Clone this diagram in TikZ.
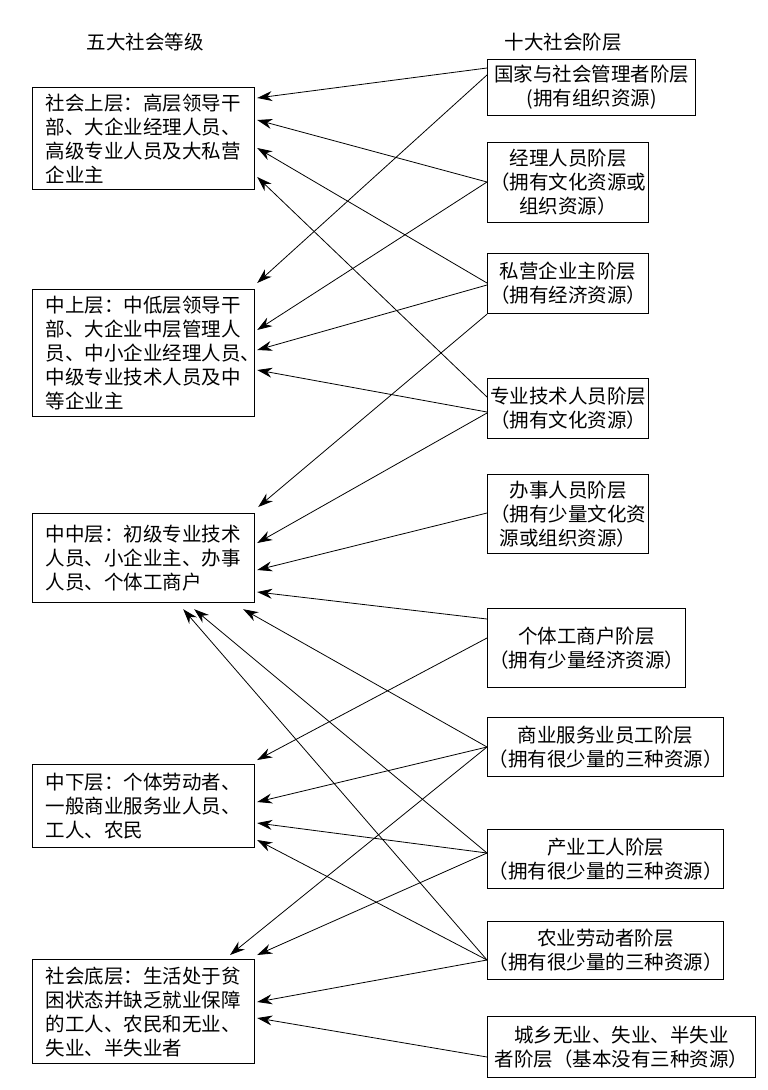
\documentclass[tikz,border=0pt]{standalone}
\usepackage{fontspec}
\setmainfont{Noto Sans CJK SC}
\usetikzlibrary{arrows.meta,calc}

\begin{document}
\begin{tikzpicture}[x=1pt, y=-1pt,
  every node/.style={font=\fontsize{19.5}{24}\selectfont},
  grade/.style={draw, line width=1.2pt, anchor=north west, minimum width=222pt, text width=196pt, align=left, inner xsep=13pt, inner ysep=0pt},
  stratum/.style={draw, line width=1.2pt, anchor=north west, align=center, inner sep=0pt},
  link/.style={-{Stealth[length=15pt,width=10pt]}, line width=0.8pt}]
\useasboundingbox (0,0) rectangle (768,1090);
\node (tgrade)   at (145,42) {五大社会等级};
\node (tstratum) at (563,42) {十大社会阶层};
% five grades
\node[grade, minimum height=102pt] (l1) at (32,87)  {社会上层：高层领导干\\部、大企业经理人员、\\高级专业人员及大私营\\企业主};
\node[grade, minimum height=127pt] (l2) at (32,289) {中上层：中低层领导干\\部、大企业中层管理人\\员、中小企业经理人员、\\中级专业技术人员及中\\等企业主};
\node[grade, minimum height=89pt]  (l3) at (32,513) {中中层：初级专业技术\\人员、小企业主、办事\\人员、个体工商户};
\node[grade, minimum height=83pt]  (l4) at (32,764) {中下层：个体劳动者、\\一般商业服务业人员、\\工人、农民};
\node[grade, minimum height=104pt] (l5) at (32,959) {社会底层：生活处于贫\\困状态并缺乏就业保障\\的工人、农民和无业、\\失业、半失业者};
% ten strata
\node[stratum, minimum width=208pt, minimum height=56pt] (r1)  at (487,59)   {国家与社会管理者阶层\\(拥有组织资源)};
\node[stratum, minimum width=161pt, minimum height=80pt] (r2)  at (487,142)  {经理人员阶层\\（拥有文化资源或\\组织资源）};
\node[stratum, minimum width=161pt, minimum height=60pt] (r3)  at (487,253)  {私营企业主阶层\\（拥有经济资源）};
\node[stratum, minimum width=161pt, minimum height=60pt] (r4)  at (487,378)  {专业技术人员阶层\\（拥有文化资源）};
\node[stratum, minimum width=161pt, minimum height=79pt] (r5)  at (487,474)  {办事人员阶层\\（拥有少量文化资\\源或组织资源）};
\node[stratum, minimum width=198pt, minimum height=79pt] (r6)  at (487,608)  {个体工商户阶层\\（拥有少量经济资源）};
\node[stratum, minimum width=236pt, minimum height=59pt] (r7)  at (487,717)  {商业服务业员工阶层\\（拥有很少量的三种资源）};
\node[stratum, minimum width=236pt, minimum height=59pt] (r8)  at (487,829)  {产业工人阶层\\（拥有很少量的三种资源）};
\node[stratum, minimum width=236pt, minimum height=58pt] (r9)  at (487,921)  {农业劳动者阶层\\（拥有很少量的三种资源）};
\node[stratum, minimum width=268pt, minimum height=61pt] (r10) at (487,1016) {城乡无业、失业、半失业\\者阶层（基本没有三种资源）};
% links
\draw[link] ($(r1.north west)+(0,9)$)  -- ($(l1.north east)+(2,11)$);
\draw[link] ($(r1.north west)+(0,16)$) -- ($(l2.north east)+(2,-6)$);
\draw[link] ($(r2.north west)+(0,40)$) -- ($(l1.north east)+(2,33)$);
\draw[link] ($(r2.north west)+(0,40)$) -- ($(l2.north east)+(2,41)$);
\draw[link] ($(r3.north west)+(0,30)$) -- ($(l1.north east)+(2,61)$);
\draw[link] ($(r3.north west)+(0,32)$) -- ($(l2.north east)+(2,61)$);
\draw[link] (r3.south west) -- ($(l3.north east)+(3,-6)$);
\draw[link] ($(r4.north west)+(0,19)$) -- ($(l1.north east)+(2,90)$);
\draw[link] ($(r4.north west)+(0,34)$) -- ($(l2.north east)+(2,81)$);
\draw[link] ($(r4.north west)+(0,35)$) -- ($(l3.north east)+(2,30)$);
\draw[link] ($(r5.north west)+(0,39)$) -- ($(l3.north east)+(2,57)$);
\draw[link] ($(r6.north west)+(0,11)$) -- ($(l3.north east)+(2,79)$);
\draw[link] ($(r6.north west)+(0,30)$) -- ($(l4.north east)+(2,-4)$);
\draw[link] ($(r7.north west)+(0,30)$) -- ($(l3.south east)+(-12,6)$);
\draw[link] ($(r7.north west)+(0,30)$) -- ($(l4.north east)+(2,38)$);
\draw[link] ($(r7.north west)+(0,30)$) -- ($(l5.north west)+(198,-4)$);
\draw[link] ($(r8.north west)+(0,24)$) -- ($(l3.south east)+(-61,6)$);
\draw[link] ($(r8.north west)+(0,24)$) -- ($(l4.north east)+(2,59)$);
\draw[link] ($(r8.north west)+(0,24)$) -- ($(l5.north east)+(2,-4)$);
\draw[link] ($(r9.north west)+(0,39)$) -- ($(l3.south east)+(-72,6)$);
\draw[link] ($(r9.north west)+(0,39)$) -- ($(l4.north east)+(2,76)$);
\draw[link] ($(r9.north west)+(0,39)$) -- ($(l5.north east)+(2,43)$);
\draw[link] ($(r10.north west)+(0,41)$) -- ($(l5.north east)+(2,59)$);
\end{tikzpicture}
\end{document}
